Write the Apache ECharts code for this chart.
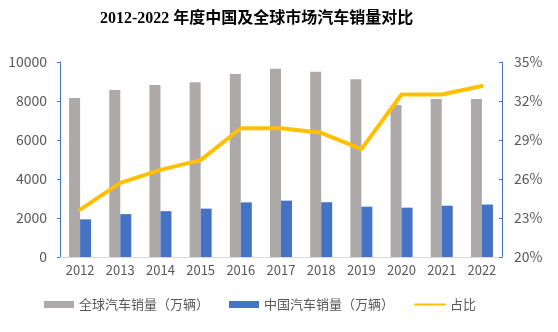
<!DOCTYPE html>
<html>
<head>
<meta charset="utf-8">
<script src="https://cdn.jsdelivr.net/npm/echarts@6/dist/echarts.min.js"></script>
<style>html,body{margin:0;padding:0;background:#fff;}#c{width:558px;height:332px;}</style>
</head>
<body>
<div id="c"></div>
<script>
var years = ['2012','2013','2014','2015','2016','2017','2018','2019','2020','2021','2022'];
var globalSales = [8160, 8560, 8820, 8960, 9385, 9660, 9505, 9110, 7800, 8100, 8100];
var chinaSales = [1930, 2200, 2350, 2480, 2800, 2890, 2810, 2580, 2530, 2630, 2690];
var share = [23.65, 25.7, 26.7, 27.45, 29.9, 29.9, 29.55, 28.3, 32.5, 32.5, 33.15];
var leftTicks = [0, 10000, 2000];
var rightTicks = [20, 35, 3];

var font = '"Noto Sans CJK SC", "Noto Sans", sans-serif';
var chart = echarts.init(document.getElementById('c'));
chart.setOption({
  animation: false,
  backgroundColor: '#fff',
  title: {
    text: '2012-2022 年度中国及全球市场汽车销量对比',
    left: 95, top: 6,
    textStyle: {fontFamily: '"Liberation Serif", "Noto Sans CJK SC", serif', fontWeight: 'bold', fontSize: 16, color: '#000'}
  },
  grid: {left: 60, right: 56, top: 62, bottom: 75},
  legend: {
    bottom: 16, left: 39, itemGap: 20, itemWidth: 30, itemHeight: 7,
    textStyle: {fontFamily: font, fontSize: 13, color: '#595959'},
    data: [
      {name: '全球汽车销量（万辆）', icon: 'rect'},
      {name: '中国汽车销量（万辆）', icon: 'rect'},
      {name: '占比', itemStyle: {opacity: 0}}
    ]
  },
  xAxis: {
    type: 'category', data: years,
    axisLine: {lineStyle: {color: '#D9D9D9'}},
    axisTick: {show: false},
    axisLabel: {fontFamily: font, fontSize: 13, color: '#595959', margin: 7}
  },
  yAxis: [
    {
      type: 'value', min: leftTicks[0], max: leftTicks[1], interval: leftTicks[2],
      axisLine: {show: true, lineStyle: {color: '#4472C4'}},
      axisTick: {show: true, length: 3, lineStyle: {color: '#4472C4'}},
      splitLine: {show: false},
      axisLabel: {fontFamily: font, fontSize: 14, color: '#595959', margin: 13,
        formatter: function (v) { return String(v); }}
    },
    {
      type: 'value', min: rightTicks[0], max: rightTicks[1], interval: rightTicks[2],
      axisLine: {show: true, lineStyle: {color: '#4472C4'}},
      axisTick: {show: true, inside: true, length: 3, lineStyle: {color: '#4472C4'}},
      splitLine: {show: false},
      axisLabel: {fontFamily: font, fontSize: 14, color: '#595959', margin: 12, formatter: '{value}%'}
    }
  ],
  series: [
    {name: '全球汽车销量（万辆）', type: 'bar', data: globalSales, barWidth: 11, barGap: '0%',
     itemStyle: {color: '#ADA9A8'}},
    {name: '中国汽车销量（万辆）', type: 'bar', data: chinaSales, barWidth: 11,
     itemStyle: {color: '#4472C4'}},
    {name: '占比', type: 'line', yAxisIndex: 1, data: share, symbol: 'none',
     lineStyle: {color: '#FFC000', width: 4, cap: 'round'}, itemStyle: {color: '#FFC000'}}
  ]
});
</script>
</body>
</html>
